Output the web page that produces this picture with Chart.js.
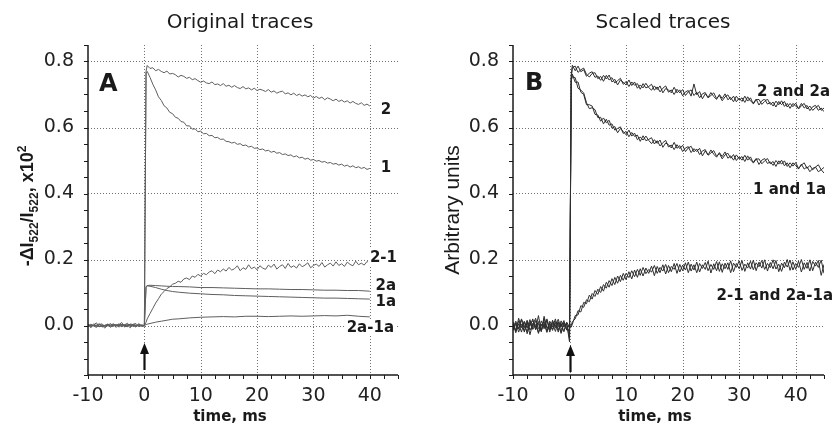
<!DOCTYPE html>
<html lang="en">
<head>
<meta charset="UTF-8">
<title>Original and scaled traces</title>
<style>
  body { margin: 0; background: #fff; }
  #wrap { position: relative; width: 835px; height: 429px; }
  canvas { position: absolute; top: 0; }
  #chartA { left: 0; }
  #chartB { left: 420px; }
</style>
</head>
<body>
<div id="wrap">
  <canvas id="chartA" width="420" height="429"></canvas>
  <canvas id="chartB" width="415" height="429"></canvas>
</div>

<script src="https://cdn.jsdelivr.net/npm/chart.js@4.4.1/dist/chart.umd.min.js"></script>
<script>
// ---- axis ticks ----
const xTicks = [-10, 0, 10, 20, 30, 40];
const xGrid = [0, 10, 20, 30, 40];
const yTicks = [0, 0.2, 0.4, 0.6, 0.8];

// ---- time (ms) ----
const tA = [-10,-9.5,-9,-8.5,-8,-7.5,-7,-6.5,-6,-5.5,-5,-4.5,-4,-3.5,-3,-2.5,-2,-1.5,-1,-0.5,0,0.3,
  0.5,1,1.5,2,2.5,3,3.5,4,4.5,5,5.5,6,6.5,7,7.5,8,8.5,9,9.5,10,
  10.5,11,11.5,12,12.5,13,13.5,14,14.5,15,15.5,16,16.5,17,17.5,18,18.5,19,19.5,20,
  20.5,21,21.5,22,22.5,23,23.5,24,24.5,25,25.5,26,26.5,27,27.5,28,28.5,29,29.5,30,
  30.5,31,31.5,32,32.5,33,33.5,34,34.5,35,35.5,36,36.5,37,37.5,38,38.5,39,39.5,40];
const tSmooth = [-10,-8,-6,-4,-2,-1,0,0.3,0.5,1,2,3,4,5,6,8,10,12,14,16,18,20,22,24,26,28,30,32,34,36,38,40];
const tB = [-10,-9.5,-9,-8.5,-8,-7.5,-7,-6.5,-6,-5.5,-5,-4.5,-4,-3.5,-3,-2.5,-2,-1.5,-1,-0.5,0,0.3,
  0.5,1,1.5,2,2.5,3,3.5,4,4.5,5,
  5.5,6,6.5,7,7.5,8,8.5,9,9.5,10,
  10.5,11,11.5,12,12.5,13,13.5,14,14.5,15,
  15.5,16,16.5,17,17.5,18,18.5,19,19.5,20,
  20.5,21,21.5,22,22.5,23,23.5,24,24.5,25,
  25.5,26,26.5,27,27.5,28,28.5,29,29.5,30,
  30.5,31,31.5,32,32.5,33,33.5,34,34.5,35,
  35.5,36,36.5,37,37.5,38,38.5,39,39.5,40,
  40.5,41,41.5,42,42.5,43,43.5,44,44.5,45];

// ---- panel A: original traces ----
const a2 = [0.002,-0.004,0.005,-0.002,0.006,-0.005,0.001,0.004,-0.006,0.003,-0.001,0.005,-0.004,0.002,0.007,-0.003,0.001,-0.005,0.004,0.000,-0.003,
  0.770,
  0.788,0.779,0.781,0.772,0.776,0.770,0.766,0.771,0.762,0.764,0.760,0.753,0.758,0.755,0.749,0.752,0.745,0.748,0.742,0.737,
  0.741,0.735,0.733,0.738,0.730,0.732,0.727,0.733,0.725,0.728,0.722,0.727,0.721,0.718,0.724,0.717,0.720,0.714,0.719,0.712,
  0.716,0.713,0.709,0.715,0.707,0.711,0.704,0.708,0.710,0.702,0.705,0.699,0.704,0.697,0.701,0.695,0.699,0.693,0.697,0.689,
  0.694,0.688,0.692,0.684,0.690,0.686,0.681,0.686,0.679,0.683,0.677,0.681,0.674,0.679,0.673,0.670,0.675,0.667,0.671,0.665];
const a1 = [-0.003,0.004,-0.001,-0.006,0.003,0.005,-0.004,0.000,0.006,-0.002,0.003,-0.005,0.002,-0.001,-0.004,0.005,0.002,-0.003,0.006,-0.002,0.001,
  0.765,
  0.770,0.752,0.731,0.714,0.693,0.682,0.666,0.659,0.646,0.642,0.631,0.628,0.618,0.616,0.605,0.605,0.595,0.596,0.587,0.589,
  0.581,0.582,0.575,0.576,0.569,0.570,0.564,0.565,0.558,0.557,0.553,0.555,0.549,0.551,0.545,0.547,0.541,0.543,0.537,0.538,
  0.533,0.535,0.529,0.531,0.525,0.528,0.522,0.524,0.518,0.520,0.515,0.517,0.511,0.514,0.508,0.510,0.504,0.507,0.501,0.503,
  0.498,0.500,0.495,0.497,0.492,0.494,0.489,0.491,0.486,0.489,0.483,0.486,0.480,0.484,0.478,0.481,0.476,0.479,0.473,0.476];
const a21 = [0.004,-0.007,0.002,0.008,-0.004,0.000,-0.008,0.005,-0.002,0.006,-0.006,0.003,0.009,-0.005,0.001,-0.007,0.004,0.006,-0.003,0.002,0.000,
  0.010,
  0.020,0.036,0.052,0.068,0.081,0.095,0.103,0.112,0.117,0.125,0.128,0.134,0.131,0.141,0.144,0.139,0.150,0.146,0.155,0.150,
  0.158,0.154,0.162,0.166,0.157,0.168,0.163,0.171,0.165,0.176,0.168,0.172,0.181,0.166,0.175,0.170,0.184,0.172,0.177,0.169,
  0.181,0.174,0.170,0.183,0.176,0.186,0.171,0.179,0.184,0.173,0.188,0.176,0.181,0.174,0.187,0.178,0.183,0.190,0.175,0.182,
  0.186,0.179,0.191,0.177,0.184,0.189,0.180,0.193,0.182,0.187,0.179,0.192,0.185,0.181,0.195,0.184,0.189,0.183,0.194,0.190];
const a2a = [0.002,-0.003,0.001,0.003,-0.002,0.001,0.000,
  0.118,0.121,0.122,0.121,0.120,0.119,0.118,0.118,0.117,0.115,0.115,0.114,0.113,0.112,0.111,0.111,0.110,0.109,0.109,0.108,0.107,0.107,0.106,0.106,0.104];
const a1a = [-0.001,0.002,-0.002,0.001,0.003,-0.001,0.000,
  0.116,0.120,0.119,0.115,0.110,0.106,0.103,0.101,0.098,0.096,0.094,0.093,0.091,0.090,0.089,0.088,0.087,0.086,0.085,0.084,0.083,0.083,0.082,0.081,0.080];
const a2a1a = [0.001,-0.002,0.002,-0.001,0.002,-0.002,0.000,
  0.003,0.004,0.006,0.010,0.013,0.016,0.019,0.020,0.023,0.025,0.026,0.027,0.026,0.028,0.028,0.027,0.028,0.029,0.028,0.029,0.030,0.029,0.031,0.028,0.026];

// ---- panel B: scaled traces ----
const b2 = [0.010,-0.015,0.005,-0.020,0.012,-0.008,0.018,-0.012,0.003,-0.022,0.014,-0.005,0.020,-0.010,0.006,-0.018,0.011,-0.003,0.015,-0.014,-0.010,
  0.760,
  0.789,0.772,0.786,0.769,0.775,0.755,0.765,0.769,0.752,0.756,
  0.743,0.758,0.747,0.759,0.738,0.746,0.729,0.744,0.737,0.729,
  0.744,0.727,0.738,0.719,0.729,0.720,0.734,0.721,0.713,0.726,
  0.715,0.726,0.705,0.718,0.714,0.705,0.722,0.705,0.714,0.696,
  0.708,0.712,0.695,0.732,0.699,0.709,0.687,0.702,0.691,0.706,
  0.694,0.685,0.700,0.688,0.702,0.684,0.691,0.678,0.695,0.683,
  0.690,0.676,0.693,0.680,0.674,0.686,0.668,0.681,0.686,0.671,
  0.676,0.665,0.680,0.669,0.681,0.664,0.673,0.658,0.673,0.665,
  0.658,0.673,0.659,0.667,0.651,0.663,0.667,0.652,0.659,0.648];
const b2a = [-0.012,0.008,-0.020,0.004,-0.006,0.016,-0.014,0.002,0.022,-0.009,-0.002,0.012,-0.018,0.007,-0.011,0.009,-0.020,0.014,-0.004,0.008,-0.040,
  0.750,
  0.781,0.786,0.767,0.775,0.780,0.761,0.753,0.764,0.766,0.748,
  0.755,0.740,0.758,0.744,0.751,0.735,0.742,0.749,0.731,0.739,
  0.724,0.738,0.728,0.733,0.716,0.733,0.720,0.724,0.731,0.713,
  0.723,0.708,0.719,0.726,0.707,0.714,0.700,0.716,0.705,0.715,
  0.697,0.708,0.714,0.697,0.707,0.690,0.702,0.706,0.690,0.697,
  0.705,0.688,0.697,0.681,0.693,0.699,0.684,0.695,0.678,0.689,
  0.679,0.695,0.680,0.690,0.671,0.684,0.685,0.670,0.679,0.686,
  0.670,0.677,0.662,0.679,0.669,0.679,0.662,0.673,0.663,0.674,
  0.656,0.666,0.673,0.656,0.665,0.652,0.660,0.667,0.652,0.659];
const b1 = [0.005,-0.022,0.014,-0.004,-0.016,0.009,-0.002,0.020,-0.013,0.006,-0.019,0.028,-0.008,0.003,-0.015,0.012,0.004,-0.021,0.010,-0.006,-0.020,
  0.745,
  0.754,0.751,0.719,0.713,0.705,0.675,0.657,0.660,0.654,0.630,
  0.631,0.611,0.625,0.607,0.611,0.592,0.597,0.602,0.582,0.588,
  0.572,0.585,0.573,0.577,0.558,0.575,0.560,0.564,0.569,0.550,
  0.560,0.544,0.554,0.561,0.541,0.547,0.533,0.548,0.536,0.546,
  0.527,0.538,0.543,0.526,0.535,0.518,0.529,0.533,0.516,0.523,
  0.530,0.513,0.521,0.505,0.517,0.522,0.507,0.518,0.500,0.511,
  0.501,0.516,0.501,0.511,0.492,0.504,0.505,0.490,0.499,0.506,
  0.490,0.497,0.482,0.499,0.489,0.499,0.482,0.493,0.483,0.494,
  0.476,0.486,0.493,0.476,0.485,0.472,0.480,0.487,0.472,0.479];
const b1a = [-0.006,0.013,-0.011,0.020,-0.003,-0.018,0.011,-0.007,0.015,-0.024,0.004,-0.010,0.016,-0.020,0.012,-0.002,0.019,-0.009,-0.016,0.006,-0.050,
  0.740,
  0.762,0.737,0.738,0.707,0.700,0.669,0.669,0.665,0.640,0.638,
  0.619,0.629,0.614,0.622,0.598,0.603,0.584,0.597,0.588,0.578,
  0.592,0.574,0.583,0.563,0.571,0.562,0.574,0.561,0.551,0.563,
  0.552,0.562,0.540,0.553,0.548,0.538,0.555,0.537,0.545,0.527,
  0.538,0.542,0.524,0.536,0.527,0.537,0.514,0.529,0.517,0.532,
  0.519,0.510,0.524,0.512,0.526,0.507,0.514,0.501,0.517,0.505,
  0.512,0.497,0.514,0.501,0.495,0.506,0.488,0.501,0.506,0.491,
  0.496,0.485,0.500,0.489,0.501,0.484,0.493,0.478,0.493,0.485,
  0.474,0.489,0.474,0.481,0.466,0.476,0.480,0.466,0.472,0.462];
const b21 = [0.008,-0.018,0.022,-0.006,0.012,-0.025,0.004,0.015,-0.011,0.030,-0.016,0.006,-0.021,0.013,-0.004,0.020,-0.014,0.007,-0.019,0.010,-0.005,
  0.000,
  0.012,0.020,0.045,0.041,0.070,0.066,0.092,0.080,0.106,0.094,
  0.118,0.104,0.131,0.116,0.142,0.124,0.150,0.133,0.158,0.139,
  0.163,0.141,0.168,0.146,0.172,0.150,0.174,0.158,0.180,0.151,
  0.179,0.160,0.184,0.156,0.182,0.163,0.188,0.158,0.185,0.166,
  0.190,0.160,0.186,0.168,0.192,0.162,0.184,0.170,0.195,0.159,
  0.187,0.166,0.193,0.161,0.189,0.170,0.196,0.163,0.188,0.172,
  0.197,0.164,0.190,0.171,0.198,0.166,0.192,0.174,0.199,0.165,
  0.191,0.172,0.197,0.163,0.189,0.175,0.200,0.167,0.193,0.170,
  0.195,0.162,0.190,0.173,0.199,0.166,0.192,0.176,0.198,0.158];
const b2a1a = [-0.015,0.004,-0.009,0.018,-0.020,0.010,-0.028,0.007,-0.004,0.012,-0.017,0.021,-0.006,-0.013,0.016,-0.008,0.011,-0.024,0.005,-0.012,0.002,
  -0.005,
  0.004,0.030,0.032,0.060,0.055,0.078,0.072,0.097,0.088,0.110,
  0.100,0.124,0.113,0.136,0.121,0.146,0.128,0.152,0.137,0.158,
  0.145,0.166,0.148,0.170,0.152,0.176,0.157,0.170,0.162,0.182,
  0.158,0.176,0.165,0.185,0.160,0.179,0.170,0.188,0.162,0.183,
  0.168,0.192,0.165,0.184,0.160,0.188,0.173,0.191,0.166,0.185,
  0.170,0.194,0.164,0.187,0.172,0.190,0.160,0.189,0.176,0.196,
  0.167,0.186,0.174,0.195,0.169,0.190,0.178,0.197,0.170,0.188,
  0.175,0.199,0.171,0.186,0.164,0.192,0.177,0.198,0.168,0.188,
  0.176,0.200,0.170,0.191,0.165,0.194,0.180,0.197,0.152,0.185];

const SANS = "'DejaVu Sans', sans-serif";
const ARIAL = "'Liberation Sans', Arial, sans-serif";

function series(t, v, color) {
  return {
    data: v.map((y, i) => ({ x: t[i], y: y })),
    borderColor: color,
    borderWidth: 1,
    pointRadius: 0,
    tension: 0,
    fill: false
  };
}

function line(ctx, x1, y1, x2, y2) {
  ctx.beginPath();
  ctx.moveTo(x1, y1);
  ctx.lineTo(x2, y2);
  ctx.stroke();
}

// grid, axes, ticks, arrow and all the labels the library can't place
const frame = {
  id: 'frame',
  beforeDatasetsDraw(chart) {
    const { ctx, chartArea: a, scales: { x, y } } = chart;
    ctx.save();
    ctx.strokeStyle = '#707070';
    ctx.lineWidth = 1;
    ctx.setLineDash([1, 2]);
    xGrid.forEach(v => {
      const p = Math.round(x.getPixelForValue(v)) + 0.5;
      line(ctx, p, a.top, p, a.bottom);
    });
    yTicks.forEach(v => {
      const p = Math.round(y.getPixelForValue(v)) + 0.5;
      line(ctx, a.left, p, a.right, p);
    });
    ctx.restore();
  },
  afterDatasetsDraw(chart, args, o) {
    const { ctx, chartArea: a, scales: { x, y } } = chart;
    ctx.save();
    ctx.strokeStyle = '#1a1a1a';
    ctx.lineWidth = 1.5;
    line(ctx, a.left, a.top, a.left, a.bottom);
    line(ctx, a.left, a.bottom, a.right, a.bottom);
    ctx.lineWidth = 1;
    for (let v = -10; v <= 45.01; v += 2.5) {
      const p = Math.round(x.getPixelForValue(v)) + 0.5;
      line(ctx, p, a.bottom, p, a.bottom + 4);
    }
    for (let v = -0.15; v <= 0.851; v += 0.05) {
      const p = Math.round(y.getPixelForValue(v)) + 0.5;
      line(ctx, a.left - 4, p, a.left, p);
    }

    // trigger arrow
    const ax = Math.round(x.getPixelForValue(0)) + 0.5;
    ctx.fillStyle = '#111';
    ctx.strokeStyle = '#111';
    ctx.lineWidth = 2.2;
    line(ctx, ax, o.arrow[1], ax, o.arrow[0] + 8);
    ctx.beginPath();
    ctx.moveTo(ax, o.arrow[0]);
    ctx.lineTo(ax - 4.5, o.arrow[0] + 11);
    ctx.lineTo(ax + 4.5, o.arrow[0] + 11);
    ctx.closePath();
    ctx.fill();

    ctx.textBaseline = 'alphabetic';
    ctx.fillStyle = '#1a1a1a';

    // panel title
    ctx.font = '20px ' + SANS;
    ctx.textAlign = 'center';
    ctx.fillText(o.title[0], o.title[1], o.title[2]);

    // panel letter
    ctx.font = 'bold 24px ' + SANS;
    ctx.textAlign = 'left';
    ctx.fillText(o.letter[0], o.letter[1], o.letter[2]);

    // x axis title
    ctx.font = 'bold 15px ' + SANS;
    ctx.textAlign = 'center';
    ctx.fillText('time, ms', o.xTitle[0], o.xTitle[1]);

    // trace names
    ctx.font = 'bold 15px ' + SANS;
    ctx.textAlign = 'left';
    o.notes.forEach(n => {
      const w = ctx.measureText(n[0]).width;
      const x0 = n[3] === 'right' ? n[1] - w : n[1] - w / 2;
      ctx.fillStyle = '#fff';
      ctx.fillRect(x0 - 2, n[2] - 13, w + 4, 16);
      ctx.fillStyle = '#1a1a1a';
      ctx.fillText(n[0], x0, n[2]);
    });

    // y axis title (rotated, with sub/superscripts)
    const yt = o.yTitle;
    ctx.save();
    ctx.translate(yt.x, yt.y);
    ctx.rotate(-Math.PI / 2);
    let total = 0;
    yt.parts.forEach(p => {
      ctx.font = (p.s ? yt.small : yt.font);
      total += ctx.measureText(p.t).width;
    });
    let cx = -total / 2;
    yt.parts.forEach(p => {
      ctx.font = (p.s ? yt.small : yt.font);
      const dy = p.s === 1 ? 4.5 : p.s === 2 ? -7 : 0;
      ctx.fillText(p.t, cx, dy);
      cx += ctx.measureText(p.t).width;
    });
    ctx.restore();

    ctx.restore();
  }
};

function makeChart(id, datasets, deco, padRight, yWidth) {
  return new Chart(document.getElementById(id), {
    type: 'line',
    data: { datasets: datasets },
    options: {
      responsive: false,
      animation: false,
      layout: { padding: { left: 0, right: padRight, top: 45, bottom: 0 } },
      plugins: {
        legend: { display: false },
        tooltip: { enabled: false },
        frame: deco
      },
      scales: {
        x: {
          type: 'linear',
          min: -10,
          max: 45,
          grid: { display: false },
          border: { display: false },
          afterBuildTicks: s => { s.ticks = xTicks.map(v => ({ value: v })); },
          afterFit: s => { s.height = 54; },
          ticks: {
            autoSkip: false,
            maxRotation: 0,
            padding: 2,
            color: '#222',
            font: { family: SANS, size: 19 },
            callback: v => String(v)
          }
        },
        y: {
          type: 'linear',
          min: -0.15,
          max: 0.85,
          grid: { display: false },
          border: { display: false },
          afterBuildTicks: s => { s.ticks = yTicks.map(v => ({ value: v })); },
          afterFit: s => { s.width = yWidth; },
          ticks: {
            padding: 6,
            color: '#222',
            font: { family: SANS, size: 19 },
            callback: v => v.toFixed(1)
          }
        }
      }
    },
    plugins: [frame]
  });
}

const greyA = '#5e5e5e';
const greyB = '#2e2e2e';

makeChart('chartA', [
  series(tA, a2, greyA),
  series(tA, a1, greyA),
  series(tA, a21, greyA),
  series(tSmooth, a2a, greyA),
  series(tSmooth, a1a, greyA),
  series(tSmooth, a2a1a, greyA)
], {
  title: ['Original traces', 240, 28],
  letter: ['A', 99, 91],
  xTitle: [230, 421],
  arrow: [343, 370],
  notes: [
    ['2', 386, 114, 'center'],
    ['1', 386, 172, 'center'],
    ['2-1', 397, 262, 'right'],
    ['2a', 396, 290, 'right'],
    ['1a', 396, 306, 'right'],
    ['2a-1a', 394, 332, 'right']
  ],
  yTitle: {
    x: 33, y: 206,
    font: 'bold 18px ' + ARIAL,
    small: 'bold 12px ' + ARIAL,
    parts: [{ t: '-\u0394I', s: 0 }, { t: '522', s: 1 }, { t: '/I', s: 0 }, { t: '522', s: 1 }, { t: ', x10', s: 0 }, { t: '2', s: 2 }]
  }
}, 22, 88);

makeChart('chartB', [
  series(tB, b2, greyB),
  series(tB, b2a, greyB),
  series(tB, b1, greyB),
  series(tB, b1a, greyB),
  series(tB, b21, greyB),
  series(tB, b2a1a, greyB)
], {
  title: ['Scaled traces', 243, 28],
  letter: ['B', 105, 90],
  xTitle: [235, 421],
  arrow: [345, 372],
  notes: [
    ['2 and 2a', 410, 96, 'right'],
    ['1 and 1a', 406, 194, 'right'],
    ['2-1 and 2a-1a', 413, 300, 'right']
  ],
  yTitle: {
    x: 39, y: 210,
    font: '21px ' + ARIAL,
    small: '21px ' + ARIAL,
    parts: [{ t: 'Arbitrary units', s: 0 }]
  }
}, 11, 93);
</script>
</body>
</html>
